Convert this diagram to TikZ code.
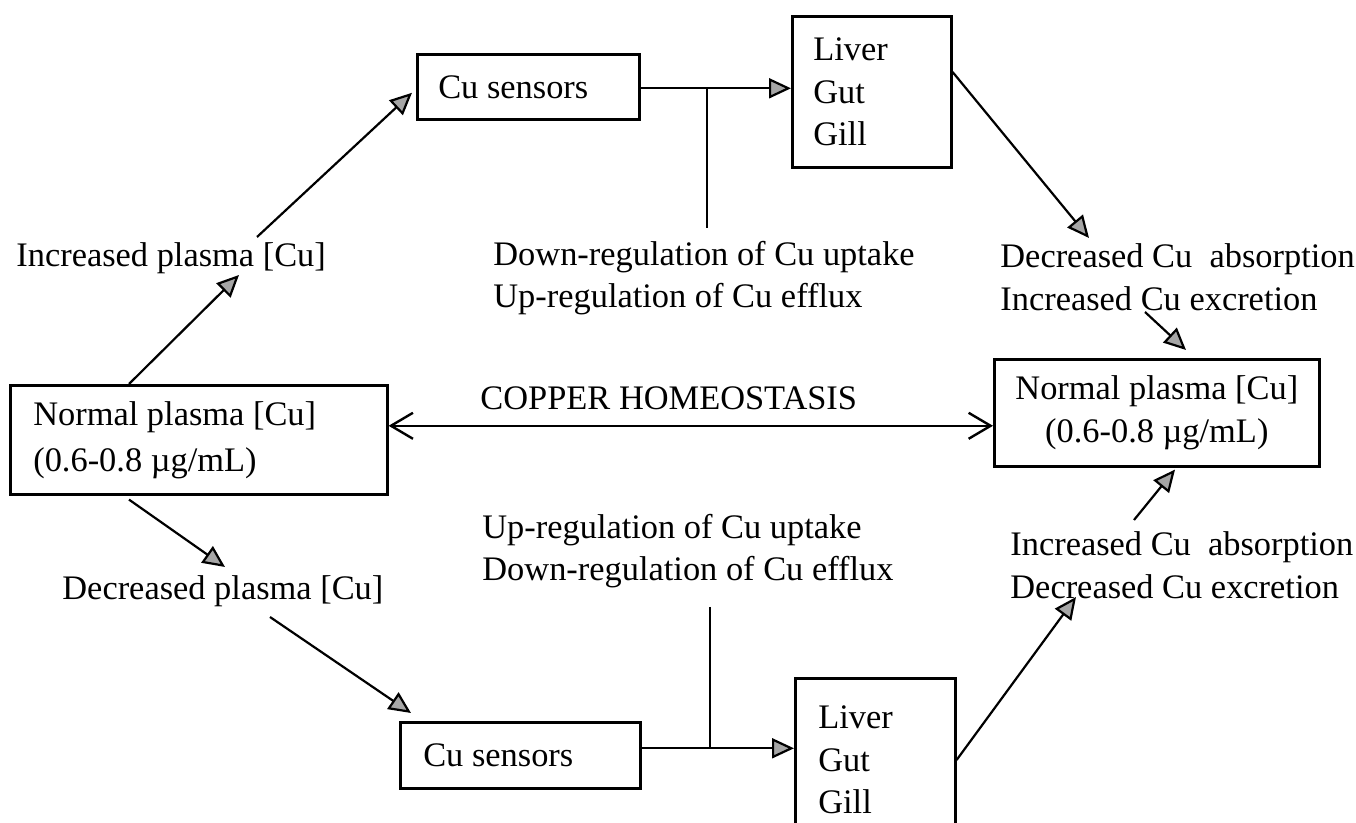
\documentclass[tikz,border=0pt]{standalone}
\usepackage{fontspec}
\setmainfont{Liberation Serif}
\usetikzlibrary{arrows.meta,calc}
\newcommand{\diagfont}{\fontsize{17.2}{21.3}\selectfont}
\tikzset{
  box/.style={draw, line width=1.3pt, inner ysep=0pt, align=flush left, font=\diagfont, anchor=north west},
  lbl/.style={inner sep=0pt, align=flush left, anchor=west, font=\diagfont},
  arr/.style={line width=1.1pt, -{Triangle[length=11pt,width=10pt,fill=gray!70]}},
  dbl/.style={line width=1.2pt, {Straight Barb[length=11pt,width=13pt]}-{Straight Barb[length=11pt,width=13pt]}},
  plain/.style={line width=1.1pt}
}
\begin{document}
\begin{tikzpicture}[x=0.5pt,y=-0.5pt]
\useasboundingbox (0,0) rectangle (1356,823);
\fill[white] (0,0) rectangle (1356,823);
% boxes
\node[box, minimum width=111pt, minimum height=32.5pt, text width=90pt, inner xsep=10.5pt] (s1) at (416,53) {Cu sensors};
\node[box, minimum width=79.5pt, minimum height=75.5pt, text width=58.5pt, inner xsep=10.5pt] (l1) at (791,15) {\raisebox{-2pt}{\parbox{58.5pt}{Liver\\Gut\\Gill}}};
\node[box, minimum width=188.5pt, minimum height=54.5pt, text width=165.5pt, inner xsep=11.5pt, font=\fontsize{17.2}{23}\selectfont] (ln) at (9,384) {Normal plasma [Cu]\\(0.6-0.8 µg/mL)};
\node[box, minimum width=162.5pt, minimum height=53.5pt, text width=152.5pt, inner xsep=5pt, align=flush center] (rn) at (993,358) {Normal plasma [Cu]\\(0.6-0.8 µg/mL)};
\node[box, minimum width=120pt, minimum height=33pt, text width=97pt, inner xsep=11.5pt] (s2) at (399,721) {Cu sensors};
\node[box, minimum width=80pt, minimum height=81.5pt, text width=57pt, inner xsep=11.5pt] (l2) at (794,677) {Liver\\Gut\\Gill};
% labels
\node[lbl] (inc) at (16,258) {Increased plasma [Cu]};
\node[lbl] (down1) at (493,278) {Down-regulation of Cu uptake\\Up-regulation of Cu efflux};
\node[lbl] (dec1) at (1000,277) {Decreased Cu\ \ absorption\\Increased Cu excretion};
\node[lbl] (cop) at (480,398) {COPPER HOMEOSTASIS};
\node[lbl] (decp) at (62,591) {Decreased plasma [Cu]};
\node[lbl] (up2) at (482,551) {Up-regulation of Cu uptake\\Down-regulation of Cu efflux};
\node[lbl] (inc2) at (1010,565) {Increased Cu\ \ absorption\\Decreased Cu excretion};
% free ends
\coordinate (t1) at (239,275);
\coordinate (f2) at (257,237);
\coordinate (j1) at (707,228);
\coordinate (t5) at (1089,238);
\coordinate (f6) at (1145,312);
\coordinate (t8) at (225,567);
\coordinate (f9) at (270,617);
\coordinate (j2) at (710,607);
\coordinate (t12) at (1076,597);
\coordinate (f13) at (1134,520);
% connectors
\draw[arr] ($(ln.north west)+(120,0)$) -- (t1);
\draw[arr] (f2) -- ($(s1.west)+(-4,6)$);
\draw[arr] ($(s1.east)+(0,1.5)$) coordinate (h1) -- (h1 -| l1.west);
\draw[plain] (j1) -- (j1 |- h1);
\draw[arr] ($(l1.north east)+(0,57)$) -- (t5);
\draw[arr] (f6) -- ($(rn.north west)+(193,-8)$);
\draw[dbl] ($(ln.east)+(0,-14)$) coordinate (d1) -- (d1 -| rn.west);
\draw[arr] ($(ln.south west)+(120,4)$) -- (t8);
\draw[arr] (f9) -- ($(s2.north west)+(12,-8)$);
\draw[arr] ($(s2.east)+(0,-7)$) coordinate (h2) -- (h2 -| l2.west);
\draw[plain] (j2) -- (j2 |- h2);
\draw[arr] ($(l2.north east)+(0,83)$) -- (t12);
\draw[arr] (f13) -- ($(rn.south west)+(182,2)$);
\end{tikzpicture}
\end{document}
